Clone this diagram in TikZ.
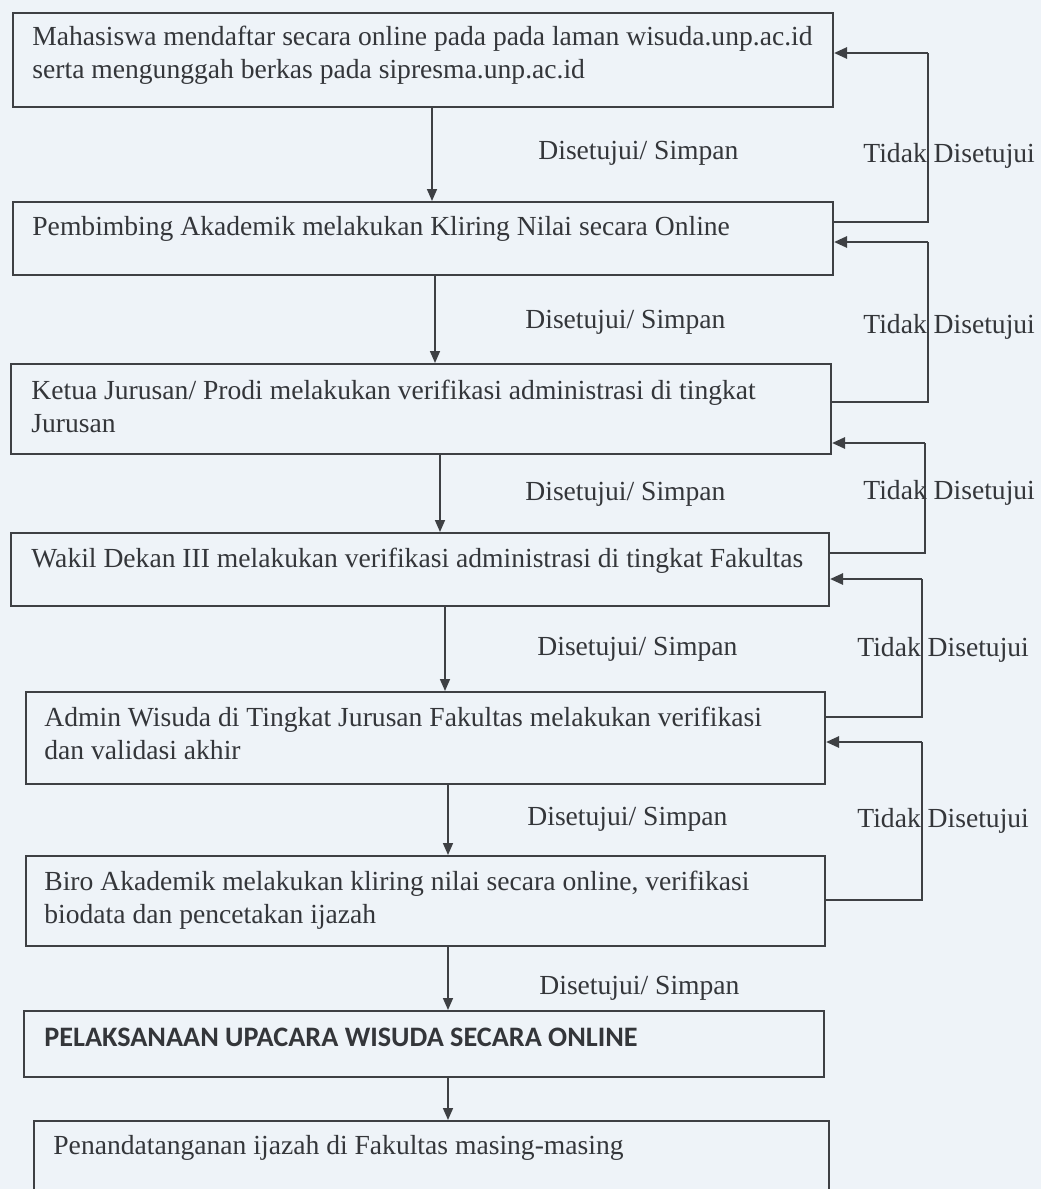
\documentclass[tikz,border=0pt]{standalone}
\usepackage{fontspec}
\setmainfont{Liberation Serif}
\newfontfamily\calib{Carlito}
\usetikzlibrary{arrows.meta,calc}
\definecolor{bg}{RGB}{238,243,248}
\definecolor{ln}{RGB}{62,64,68}
\definecolor{tx}{RGB}{52,54,58}
\begin{document}
\begin{tikzpicture}[x=0.5pt,y=-0.5pt,
  box/.style={draw=ln,line width=1pt,inner sep=0,anchor=north west},
  txt/.style={anchor=base west,inner sep=0,text=tx,font=\fontsize{13.8}{16.5}\selectfont},
  arr/.style={draw=ln,line width=0.8pt,-{Triangle[length=6pt,width=5pt]}},
  fbline/.style={draw=ln,line width=0.8pt},
  fb/.style={draw=ln,line width=1.3pt,-{Triangle[length=6.5pt,width=5.5pt]}}]
\fill[bg] (0,0) rectangle (1041,1189);
\useasboundingbox (0,0) rectangle (1041,1189);

% boxes
\node[box,minimum width=410pt,minimum height=47pt] (b1) at (12,12) {};
\node[box,minimum width=410pt,minimum height=36.5pt] (b2) at (12,201) {};
\node[box,minimum width=410pt,minimum height=45pt] (b3) at (10,363) {};
\node[box,minimum width=409pt,minimum height=36.5pt] (b4) at (10,532) {};
\node[box,minimum width=399.5pt,minimum height=46pt] (b5) at (25,691) {};
\node[box,minimum width=399.5pt,minimum height=45pt] (b6) at (25,855) {};
\node[box,minimum width=400pt,minimum height=33pt] (b7) at (23,1010) {};
\node[box,minimum width=397.5pt,minimum height=40pt] (b8) at (33,1120) {};

% texts
\node[txt] (t1a) at (32,45) {Mahasiswa mendaftar secara online pada pada laman wisuda.unp.ac.id};
\node[txt] (t1b) at (32,78) {serta mengunggah berkas pada sipresma.unp.ac.id};
\node[txt] (t2) at (32,235) {Pembimbing Akademik melakukan Kliring Nilai secara Online};
\node[txt] (t3a) at (31,399) {Ketua Jurusan/ Prodi melakukan verifikasi administrasi di tingkat};
\node[txt] (t3b) at (31,432) {Jurusan};
\node[txt] (t4) at (31,567) {Wakil Dekan III melakukan verifikasi administrasi di tingkat Fakultas};
\node[txt] (t5a) at (44,726) {Admin Wisuda di Tingkat Jurusan Fakultas melakukan verifikasi};
\node[txt] (t5b) at (44,759) {dan validasi akhir};
\node[txt] (t6a) at (44,890) {Biro Akademik melakukan kliring nilai secara online, verifikasi};
\node[txt] (t6b) at (44,923) {biodata dan pencetakan ijazah};
\node[txt,font={\calib\bfseries\fontsize{14.1}{16.5}\selectfont}] (t7) at (44,1046) {PELAKSANAAN UPACARA WISUDA SECARA ONLINE};
\node[txt] (t8) at (53,1154) {Penandatanganan ijazah di Fakultas masing-masing};

% down arrow x positions
\coordinate (x1) at (432,0);
\coordinate (x2) at (435,0);
\coordinate (x3) at (440,0);
\coordinate (x4) at (445,0);
\coordinate (x5) at (448,0);
\draw[arr] (b1.south -| x1) -- (b2.north -| x1);
\draw[arr] (b2.south -| x2) -- (b3.north -| x2);
\draw[arr] (b3.south -| x3) -- (b4.north -| x3);
\draw[arr] (b4.south -| x4) -- (b5.north -| x4);
\draw[arr] (b5.south -| x5) -- (b6.north -| x5);
\draw[arr] (b6.south -| x5) -- (b7.north -| x5);
\draw[arr] (b7.south -| x5) -- (b8.north -| x5);

% feedback loop corners
\coordinate (c1) at ($(b1.north east)+(94,41)$);
\coordinate (c2) at ($(b2.north east)+(94,41)$);
\coordinate (c3) at ($(b3.north east)+(93,80)$);
\coordinate (c4) at ($(b4.north east)+(92,47)$);
\coordinate (c5) at ($(b5.north east)+(96,51)$);
% feedback loops
\draw[fbline] ($(b2.north east)+(0,21)$) -| (c1);
\draw[fb] (c1) -- ($(b1.north east)+(0,41)$);
\draw[fbline] ($(b3.north east)+(0,39)$) -| (c2);
\draw[fb] (c2) -- ($(b2.north east)+(0,41)$);
\draw[fbline] ($(b4.north east)+(0,21)$) -| (c3);
\draw[fb] (c3) -- ($(b3.north east)+(0,80)$);
\draw[fbline] ($(b5.north east)+(0,26)$) -| (c4);
\draw[fb] (c4) -- ($(b4.north east)+(0,47)$);
\draw[fbline] ($(b6.north east)+(0,45)$) -| (c5);
\draw[fb] (c5) -- ($(b5.north east)+(0,51)$);

% labels
\node[txt] (d1) at (538,159) {Disetujui/ Simpan};
\node[txt] (d2) at (525,328) {Disetujui/ Simpan};
\node[txt] (d3) at (525,500) {Disetujui/ Simpan};
\node[txt] (d4) at (537,655) {Disetujui/ Simpan};
\node[txt] (d5) at (527,825) {Disetujui/ Simpan};
\node[txt] (d6) at (539,994) {Disetujui/ Simpan};
\node[txt] (n1) at (863,162) {Tidak Disetujui};
\node[txt] (n2) at (863,333) {Tidak Disetujui};
\node[txt] (n3) at (863,499) {Tidak Disetujui};
\node[txt] (n4) at (857,656) {Tidak Disetujui};
\node[txt] (n5) at (857,827) {Tidak Disetujui};
\end{tikzpicture}
\end{document}
